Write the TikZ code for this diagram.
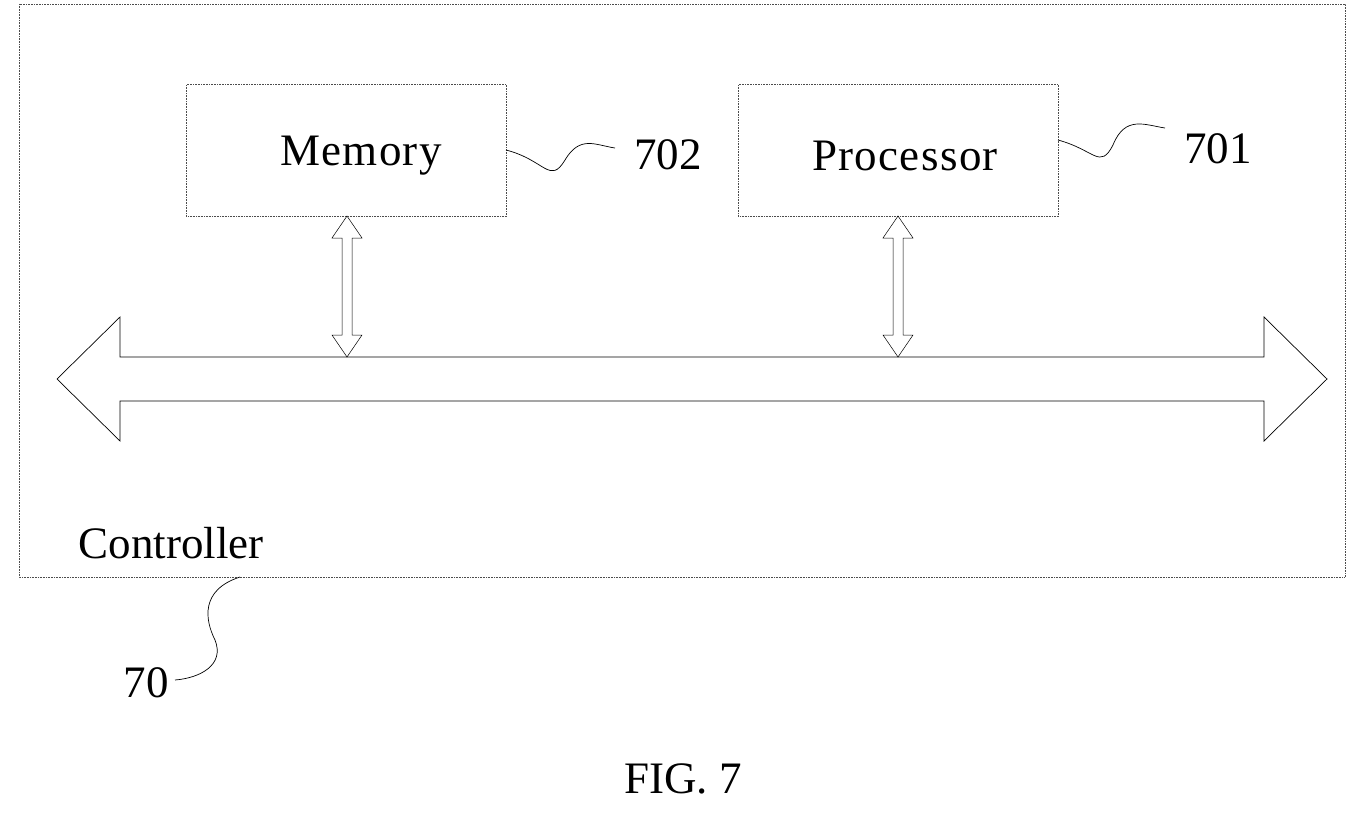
\documentclass[tikz,border=0pt]{standalone}
\usepackage{fontspec}
\setmainfont{Liberation Serif}
\begin{document}
\begin{tikzpicture}[x=1pt,y=-1pt,
  box/.style={draw=black!70,line width=0.6pt,densely dotted},
  lbl/.style={font=\fontsize{45}{50}\selectfont,inner sep=0},
  ln/.style={draw=black,line width=0.7pt}]
\useasboundingbox (0,0) rectangle (1366,816);
\draw[box] (19,4) rectangle (1345,577);
\node[box,minimum width=320,minimum height=132,anchor=north west] (mem) at (186,84) {};
\node[lbl] at (361,156) {\addfontfeature{LetterSpace=3}Memory};
\node[box,minimum width=320,minimum height=132,anchor=north west] (proc) at (738,84) {};
\node[lbl] at (905,156) {\addfontfeature{LetterSpace=3}Processor};
% bus
\draw[ln] (57,379) -- (120,317) -- (120,357) -- (1264,357) -- (1264,317) -- (1327,379) -- (1264,441) -- (1264,401) -- (120,401) -- (120,441) -- cycle;
% vertical arrows
\foreach \x in {347,898}{
\draw[line width=0.5pt] (\x,216) -- (\x+15,238) -- (\x+5,238) -- (\x+5,335) -- (\x+15,335) -- (\x,357) -- (\x-15,335) -- (\x-5,335) -- (\x-5,238) -- (\x-15,238) -- cycle;}
% leaders
\coordinate (a1) at (506,150); \coordinate (a2) at (615,148);
\draw[ln] (a1) .. controls (545,160) and (550,185) .. (565,160) .. controls (580,135) and (595,145) .. (a2);
\node[lbl] (n702) at (668,155) {702};
\coordinate (b1) at (1058,140); \coordinate (b2) at (1165,128);
\draw[ln] (b1) .. controls (1095,150) and (1100,170) .. (1113,145) .. controls (1125,115) and (1145,125) .. (b2);
\node[lbl] (n701) at (1218,149) {701};
\node[lbl] (ctl) at (171,543) {Controller};
\coordinate (c1) at (240,577); \coordinate (c2) at (175,680);
\draw[ln] (c1) .. controls (200,590) and (205,620) .. (215,640) .. controls (225,665) and (200,678) .. (c2);
\node[lbl] (n70) at (146,683) {70};
\node[lbl] (fig) at (683,779) {FIG. 7};
\end{tikzpicture}
\end{document}
